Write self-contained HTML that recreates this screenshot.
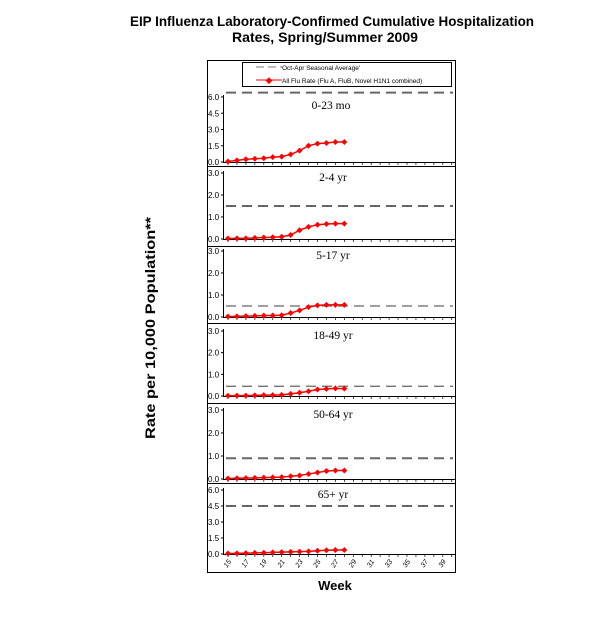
<!DOCTYPE html>
<html><head><meta charset="utf-8"><style>body{margin:0;background:#fff}svg{display:block}</style></head>
<body>
<svg id="s" width="600" height="630" xmlns="http://www.w3.org/2000/svg" font-family="Liberation Sans, sans-serif">
<text x="332" y="26" font-size="14" font-weight="bold" text-anchor="middle" textLength="404" lengthAdjust="spacingAndGlyphs">EIP Influenza Laboratory-Confirmed Cumulative Hospitalization</text>
<text x="325" y="42" font-size="14" font-weight="bold" text-anchor="middle" textLength="186" lengthAdjust="spacingAndGlyphs">Rates, Spring/Summer 2009</text>
<text transform="translate(155,328) rotate(-90)" font-size="14" font-weight="bold" text-anchor="middle" textLength="222" lengthAdjust="spacingAndGlyphs">Rate per 10,000 Population**</text>
<text x="335" y="590" font-size="13" font-weight="bold" text-anchor="middle">Week</text>
<rect x="207.5" y="60.5" width="248" height="512" fill="none" stroke="#000"/>
<rect x="242.5" y="62.5" width="209" height="24" fill="#fff" stroke="#000"/>
<line x1="256" y1="67" x2="282" y2="67" stroke="#777" stroke-dasharray="8,4"/>
<text x="282" y="70" font-size="6.5">Oct-Apr Seasonal Average'</text>
<line x1="256" y1="80" x2="282" y2="80" stroke="red"/>
<text x="269" y="83" font-size="9" fill="red" text-anchor="middle">◆</text>
<text x="282" y="83" font-size="6.5">All Flu Rate (Flu A, FluB, Novel H1N1 combined)</text>
<g id="g"></g>
</svg>
<script>
const P=[
{lab:"0-23 mo",max:6,top:97,bot:162,sep:166,ticks:["6.0","4.5","3.0","1.5","0.0"],dash:6.4,
d:[0.05,0.15,0.25,0.3,0.35,0.45,0.5,0.7,1.05,1.5,1.7,1.75,1.85,1.85]},
{lab:"2-4 yr",max:3,top:173,bot:239,sep:246,ticks:["3.0","2.0","1.0","0.0"],dash:1.5,
d:[0.02,0.03,0.03,0.05,0.07,0.08,0.1,0.18,0.4,0.55,0.65,0.68,0.7,0.7]},
{lab:"5-17 yr",max:3,top:251,bot:317,sep:323,ticks:["3.0","2.0","1.0","0.0"],dash:0.5,
d:[0.02,0.03,0.04,0.05,0.06,0.07,0.08,0.18,0.3,0.45,0.53,0.55,0.55,0.55]},
{lab:"18-49 yr",max:3,top:331,bot:396,sep:403,ticks:["3.0","2.0","1.0","0.0"],dash:0.45,
d:[0.01,0.02,0.02,0.03,0.04,0.04,0.05,0.1,0.15,0.22,0.3,0.33,0.35,0.34]},
{lab:"50-64 yr",max:3,top:410,bot:479,sep:483,ticks:["3.0","2.0","1.0","0.0"],dash:0.9,
d:[0.02,0.03,0.04,0.05,0.06,0.07,0.08,0.12,0.15,0.22,0.28,0.35,0.37,0.37]},
{lab:"65+ yr",max:6,top:490,bot:554,sep:null,ticks:["6.0","4.5","3.0","1.5","0.0"],dash:4.5,
d:[0.05,0.06,0.08,0.1,0.12,0.15,0.17,0.2,0.22,0.25,0.3,0.35,0.38,0.38]}];
let h="";const X=w=>228+(w-15)*8.95;
P.forEach((p,i)=>{
 const Y=v=>p.bot-(v/p.max)*(p.bot-p.top);
 h+=`<line x1="223.5" y1="${p.top-2}" x2="223.5" y2="${p.bot}" stroke="#000"/>`;
 h+=`<line x1="223" y1="${p.bot+.5}" x2="455" y2="${p.bot+.5}" stroke="#000"/>`;
 if(p.sep)h+=`<line x1="207" y1="${p.sep+.5}" x2="455" y2="${p.sep+.5}" stroke="#000"/>`;
 for(let w=15;w<=40;w++){h+=`<line x1="${X(w)}" y1="${p.bot}" x2="${X(w)}" y2="${p.bot+3}" stroke="#000" stroke-width=".7"/>`;}
 p.ticks.forEach((t,k)=>{const y=p.top+k*(p.bot-p.top)/(p.ticks.length-1);
  h+=`<line x1="221" y1="${y}" x2="224" y2="${y}" stroke="#000"/><text x="208" y="${y+3}" font-size="8">${t}</text>`;});
 const dy=Y(p.dash);
 h+=`<line x1="226" y1="${dy}" x2="453" y2="${dy}" stroke="#666" stroke-width="${p.dash<0.6?1.2:2}" stroke-dasharray="10,6"/>`;
 h+=`<text x="${i==0?331:333}" y="${p.top+(i==0?12:8)}" font-family="Liberation Serif, serif" font-size="11.5" text-anchor="middle">${p.lab}</text>`;
 h+=`<polyline fill="none" stroke="red" stroke-width="1.5" points="${p.d.map((v,j)=>X(15+j)+","+Y(v)).join(" ")}"/>`;
 p.d.forEach((v,j)=>{const x=X(15+j),y=Y(v);h+=`<polygon fill="red" points="${x},${y-3} ${x+3},${y} ${x},${y+3} ${x-3},${y}"/>`;});
});
for(let w=15;w<=39;w+=2){const x=X(w);h+=`<text transform="translate(${x-1},568) rotate(-55)" font-size="7" font-style="italic">${w}</text>`;}
document.getElementById("g").innerHTML=h;
</script>
</body></html>
